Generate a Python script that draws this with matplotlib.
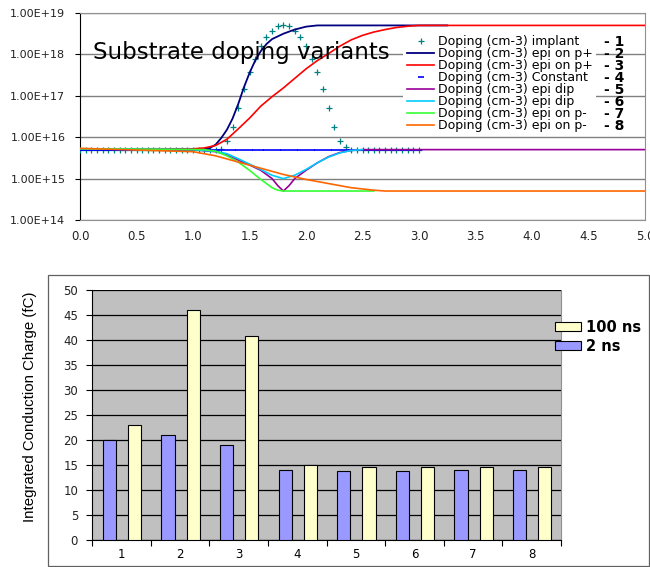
import matplotlib
matplotlib.use('Agg')
import matplotlib.pyplot as plt
from matplotlib.patches import Rectangle
from matplotlib.ticker import FixedLocator, FuncFormatter, NullLocator
import numpy as np

plt.rcParams['font.family'] = ['DejaVu Sans']

# ---------------- top chart: doping profiles (log10 of doping, cm-3) vs depth
x_grid = [0.00, 0.05, 0.10, 0.15, 0.20, 0.25, 0.30, 0.35, 0.40, 0.45,
          0.50, 0.55, 0.60, 0.65, 0.70, 0.75, 0.80, 0.85, 0.90, 0.95,
          1.00, 1.05, 1.10, 1.15, 1.20, 1.25, 1.30, 1.35, 1.40, 1.45,
          1.50, 1.55, 1.60, 1.65, 1.70, 1.75, 1.80, 1.85, 1.90, 1.95,
          2.00, 2.05, 2.10, 2.15, 2.20, 2.25, 2.30, 2.35, 2.40, 2.45,
          2.50, 2.55, 2.60, 2.65, 2.70, 2.75, 2.80, 2.85, 2.90, 2.95,
          3.00]
implant_log = [15.70, 15.70, 15.70, 15.70, 15.70, 15.70, 15.70, 15.70, 15.70, 15.70,
               15.70, 15.70, 15.70, 15.70, 15.70, 15.70, 15.70, 15.70, 15.70, 15.70,
               15.70, 15.70, 15.70, 15.70, 15.70, 15.72, 15.90, 16.25, 16.70, 17.16,
               17.57, 17.90, 18.20, 18.42, 18.57, 18.69, 18.71, 18.69, 18.57, 18.42,
               18.20, 17.90, 17.57, 17.16, 16.70, 16.25, 15.90, 15.77, 15.70, 15.70,
               15.70, 15.70, 15.70, 15.70, 15.70, 15.70, 15.70, 15.70, 15.70, 15.70,
               15.70]
const_log = [15.69] * len(x_grid)

p_plus_a_x = [0.0, 0.5, 1.0, 1.1, 1.15, 1.2, 1.25, 1.3, 1.35, 1.4, 1.45, 1.5, 1.55,
              1.6, 1.65, 1.7, 1.8, 1.9, 2.0, 2.1, 2.2, 3.25]
p_plus_a_log = [15.70, 15.70, 15.70, 15.71, 15.74, 15.82, 15.98, 16.18, 16.45, 16.80,
                17.20, 17.55, 17.85, 18.08, 18.25, 18.37, 18.50, 18.60, 18.67, 18.70,
                18.70, 18.70]

p_plus_b_x = [0.0, 1.0, 1.1, 1.2, 1.3, 1.4, 1.5, 1.6, 1.7, 1.8, 1.9, 2.0, 2.1, 2.2,
              2.3, 2.4, 2.5, 2.6, 2.7, 2.8, 2.9, 3.0, 5.0]
p_plus_b_log = [15.72, 15.72, 15.74, 15.80, 15.95, 16.20, 16.46, 16.75, 16.98, 17.19,
                17.42, 17.65, 17.85, 18.02, 18.20, 18.35, 18.46, 18.54, 18.60, 18.65,
                18.68, 18.70, 18.70]

dip_a_x = [0.0, 1.0, 1.2, 1.3, 1.4, 1.5, 1.6, 1.7, 1.75, 1.8, 1.85, 1.9, 2.0, 2.1,
           2.2, 2.3, 2.4, 2.5, 5.0]
dip_a_log = [15.72, 15.70, 15.65, 15.58, 15.45, 15.33, 15.20, 15.00, 14.83, 14.70,
             14.83, 15.00, 15.20, 15.38, 15.53, 15.63, 15.68, 15.70, 15.70]

dip_b_x = [0.0, 1.0, 1.2, 1.3, 1.4, 1.5, 1.6, 1.7, 1.8, 1.9, 2.0, 2.1, 2.2, 2.3,
           2.4, 2.5]
dip_b_log = [15.72, 15.70, 15.66, 15.60, 15.48, 15.35, 15.22, 15.08, 15.00, 15.08,
             15.22, 15.38, 15.52, 15.62, 15.68, 15.70]

p_minus_a_x = [0.0, 1.1, 1.2, 1.3, 1.4, 1.5, 1.6, 1.7, 1.75, 1.8, 2.6]
p_minus_a_log = [15.72, 15.70, 15.66, 15.55, 15.40, 15.20, 14.98, 14.78, 14.72,
                 14.70, 14.70]

p_minus_b_x = [0.0, 1.0, 1.2, 1.4, 1.6, 1.8, 2.0, 2.2, 2.4, 2.6, 2.7, 5.0]
p_minus_b_log = [15.73, 15.65, 15.55, 15.40, 15.25, 15.10, 14.98, 14.88, 14.78,
                 14.72, 14.70, 14.70]

series_labels = ['Doping (cm-3) implant', 'Doping (cm-3) epi on p+',
                 'Doping (cm-3) epi on p+', 'Doping (cm-3) Constant',
                 'Doping (cm-3) epi dip', 'Doping (cm-3) epi dip',
                 'Doping (cm-3) epi on p-', 'Doping (cm-3) epi on p-']
series_numbers = ['- 1', '- 2', '- 3', '- 4', '- 5', '- 6', '- 7', '- 8']
depth_ticks = [0.0, 0.5, 1.0, 1.5, 2.0, 2.5, 3.0, 3.5, 4.0, 4.5, 5.0]
decades = [1e14, 1e15, 1e16, 1e17, 1e18, 1e19]

# ---------------- bottom chart: integrated charge per variant
variants = ['1', '2', '3', '4', '5', '6', '7', '8']
charge_2ns = [20.1, 21.1, 19.0, 14.0, 13.9, 13.9, 14.0, 14.0]
charge_100ns = [23.1, 46.0, 40.9, 15.1, 14.6, 14.6, 14.6, 14.6]

W, H = 650, 567
fig = plt.figure(figsize=(W / 100, H / 100), dpi=100)

def px_axes(left, top, right, bottom):
    return fig.add_axes([left / W, 1 - bottom / H, (right - left) / W, (bottom - top) / H])

# ===== top chart
ax1 = px_axes(80, 13, 645, 220)
pw = lambda v: [10 ** a for a in v]

ax1.plot(x_grid, pw(implant_log), ls='none', marker='+', ms=5, mew=0.9,
         color='#008080', label=series_labels[0], zorder=3)
ax1.plot(p_plus_a_x, pw(p_plus_a_log), color='#000080', lw=1.3, label=series_labels[1], zorder=3)
ax1.plot(p_plus_b_x, pw(p_plus_b_log), color='#FF0000', lw=1.2, label=series_labels[2], zorder=3)
ax1.plot(x_grid, pw(const_log), ls='none', marker='_', ms=4.5, mew=1.2,
         color='#0000FF', label=series_labels[3], zorder=3)
ax1.plot(dip_a_x, pw(dip_a_log), color='#990099', lw=1.2, label=series_labels[4], zorder=3)
ax1.plot(dip_b_x, pw(dip_b_log), color='#00CCFF', lw=1.2, label=series_labels[5], zorder=3)
ax1.plot(p_minus_a_x, pw(p_minus_a_log), color='#33FF33', lw=1.2, label=series_labels[6], zorder=3)
ax1.plot(p_minus_b_x, pw(p_minus_b_log), color='#FF6600', lw=1.2, label=series_labels[7], zorder=3)

ax1.set_yscale('log')
ax1.set_ylim(1e14, 1e19)
ax1.set_xlim(0, 5)
ax1.yaxis.set_major_locator(FixedLocator(decades))
ax1.yaxis.set_minor_locator(NullLocator())
ax1.yaxis.set_major_formatter(FuncFormatter(lambda v, p: '%.2E' % v))
ax1.set_xticks(depth_ticks)
ax1.set_xticklabels(['%.1f' % t for t in depth_ticks])
ax1.tick_params(axis='x', length=0, pad=7, labelsize=8.5, labelcolor='#222222')
ax1.tick_params(axis='y', length=3.5, width=0.8, pad=7, labelsize=8,
                labelcolor='#222222', color='black')
ax1.grid(axis='y', color='#808080', lw=1.0)
ax1.set_axisbelow(True)
for s in ['top', 'right', 'bottom']:
    ax1.spines[s].set_color('#909090')
ax1.spines['left'].set_color('black')

ax1.text(0.023, 0.81, 'Substrate doping variants', transform=ax1.transAxes,
         fontsize=16.5, va='center', ha='left', zorder=4)

leg = ax1.legend(loc='upper left', bbox_to_anchor=(0.572, 0.91), fontsize=9.0,
                 frameon=True, facecolor='white', edgecolor='none', framealpha=1,
                 labelspacing=-0.08, handlelength=2.2, handletextpad=0.25,
                 borderpad=0.3, numpoints=1, borderaxespad=0)
leg.set_zorder(5)

fig.canvas.draw()
inv = ax1.transAxes.inverted()
for t, num in zip(leg.get_texts(), series_numbers):
    bb = t.get_window_extent()
    yc = inv.transform((0, (bb.y0 + bb.y1) / 2))[1]
    ax1.text((604 - 80) / 565, yc, num, transform=ax1.transAxes, fontsize=10,
             fontweight='bold', va='center', ha='left', zorder=6)

# ===== bottom chart
fig.patches.append(Rectangle((48 / W, 1 / H), (649 - 48) / W, (566 - 275) / H,
                             transform=fig.transFigure, fill=False,
                             edgecolor='#606060', lw=0.9))

ax2 = px_axes(92, 290, 561, 540)
xpos = np.arange(len(variants))
b_blue = ax2.bar(xpos - 0.205, charge_2ns, width=0.225, color='#9999FF',
                 edgecolor='black', lw=0.8, zorder=3)
b_yel = ax2.bar(xpos + 0.225, charge_100ns, width=0.225, color='#FFFFCC',
                edgecolor='black', lw=0.8, zorder=3)
ax2.set_facecolor('#C0C0C0')
ax2.set_xlim(-0.5, len(variants) - 0.5)
ax2.set_ylim(0, 50)
ax2.set_yticks(range(0, 51, 5))
ax2.set_xticks(xpos)
ax2.set_xticklabels(variants)
ax2.set_xticks(np.arange(-0.5, len(variants)), minor=True)
ax2.tick_params(axis='x', which='major', length=0, pad=6, labelsize=8.5)
ax2.tick_params(axis='x', which='minor', length=4, width=0.8)
ax2.tick_params(axis='y', length=4, width=0.8, pad=6, labelsize=8.5, labelcolor='#222222')
ax2.grid(axis='y', color='black', lw=0.9)
ax2.set_axisbelow(True)
ax2.spines['top'].set_visible(False)
ax2.spines['right'].set_color('#909090')
fig.text(30 / W, 1 - 407 / H, 'Integrated Conduction Charge (fC)', rotation=90,
         ha='center', va='center', fontsize=10.8, family=['Liberation Sans'])

fig.legend([b_yel, b_blue], ['100 ns', '2 ns'], loc='upper left',
           bbox_to_anchor=(555 / W, 1 - 320 / H), frameon=False, borderpad=0,
           borderaxespad=0, handlelength=1.8, handleheight=0.6, handletextpad=0.3,
           labelspacing=0.25, prop={'weight': 'bold', 'size': 10.5})

fig.savefig('out.png', dpi=100)
